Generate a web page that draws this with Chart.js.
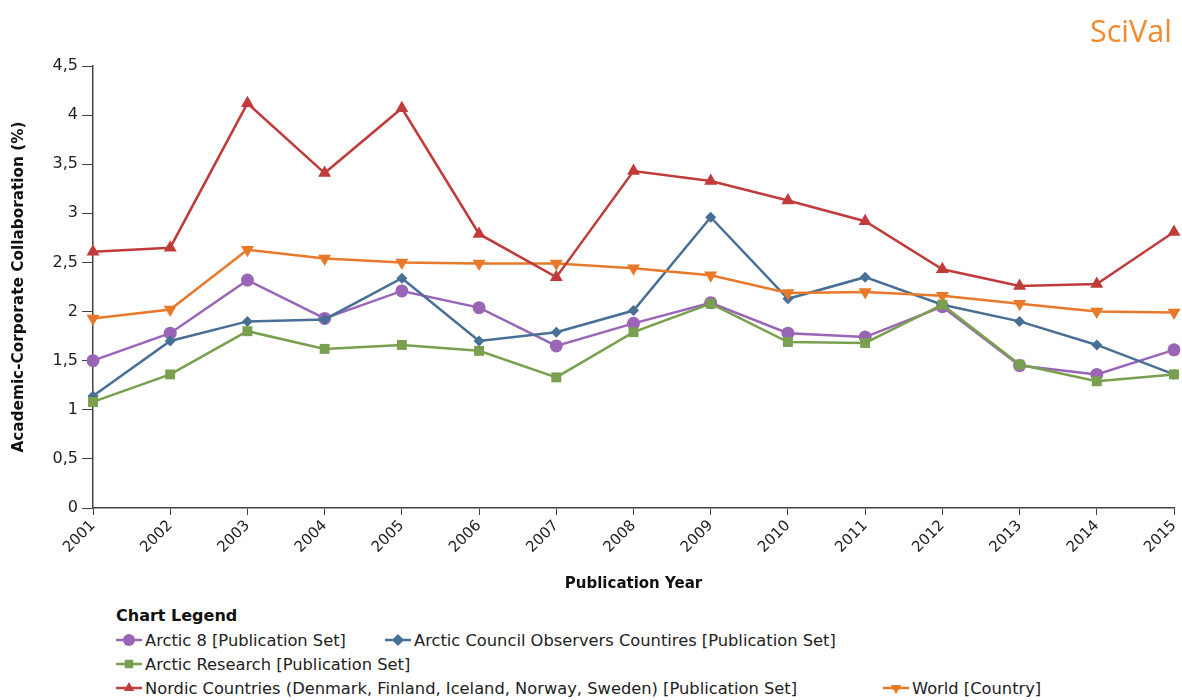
<!DOCTYPE html>
<html>
<head>
<meta charset="utf-8">
<script src="https://cdn.jsdelivr.net/npm/chart.js@4.4.1/dist/chart.umd.min.js"></script>
<style>
  body { margin: 0; background: #fff; font-family: "DejaVu Sans", sans-serif; }
  #wrap { position: relative; width: 1182px; height: 700px; overflow: hidden; }
  #chart { position: absolute; left: 0; top: 0; }
  #logo { position: absolute; left: 1090px; top: 9px; color: #f08a2c; font-size: 30.5px; font-family: "Open Sans", sans-serif; }
  #legendTitle { position: absolute; left: 116px; top: 606px; font-weight: bold; font-size: 16px; color: #111; }
  .item { position: absolute; font-size: 16.3px; color: #222; white-space: nowrap; }
  .item canvas { vertical-align: -2px; margin-right: 3px; }
</style>
</head>
<body>
<div id="wrap">
  <canvas id="chart" width="1182" height="600"></canvas>
  <div id="logo">SciVal</div>
  <div id="legendTitle">Chart Legend</div>
  <div id="legend"></div>
</div>
<script>
const years = ["2001", "2002", "2003", "2004", "2005", "2006", "2007", "2008",
  "2009", "2010", "2011", "2012", "2013", "2014", "2015"];

const arctic8 = [1.50, 1.78, 2.32, 1.93, 2.21, 2.04, 1.65, 1.88, 2.09, 1.78, 1.74, 2.05, 1.45, 1.36, 1.61];
const observers = [1.14, 1.70, 1.90, 1.92, 2.34, 1.70, 1.79, 2.01, 2.96, 2.13, 2.35, 2.07, 1.90, 1.66, 1.36];
const arcticResearch = [1.08, 1.36, 1.80, 1.62, 1.66, 1.60, 1.33, 1.79, 2.08, 1.69, 1.68, 2.07, 1.46, 1.29, 1.36];
const nordic = [2.61, 2.65, 4.12, 3.41, 4.07, 2.79, 2.35, 3.43, 3.33, 3.13, 2.92, 2.43, 2.26, 2.28, 2.81];
const world = [1.93, 2.02, 2.63, 2.54, 2.50, 2.49, 2.49, 2.44, 2.37, 2.19, 2.20, 2.16, 2.08, 2.00, 1.99];

const yTicks = [0, 0.5, 1, 1.5, 2, 2.5, 3, 3.5, 4, 4.5];

const series = [
  { label: "Arctic 8 [Publication Set]", data: arctic8, color: "#9b65b7", style: "circle", r: 6.5, rot: 0 },
  { label: "Arctic Council Observers Countires [Publication Set]", data: observers, color: "#486f96", style: "rectRot", r: 5.5, rot: 0 },
  { label: "Arctic Research [Publication Set]", data: arcticResearch, color: "#78a04f", style: "rect", r: 7, rot: 0 },
  { label: "Nordic Countries (Denmark, Finland, Iceland, Norway, Sweden) [Publication Set]", data: nordic, color: "#c23b3b", style: "triangle", r: 7.5, rot: 0 },
  { label: "World [Country]", data: world, color: "#e8792a", style: "triangle", r: 7.5, rot: 180 }
];

// order in which lines are drawn (bottom first)
const drawOrder = [4, 3, 0, 1, 2];

const legendPos = [[116, 631], [385, 631], [116, 655], [116, 679], [883, 679]];

const ctx = document.getElementById("chart").getContext("2d");

const chart = new Chart(ctx, {
  type: "line",
  data: {
    labels: years,
    datasets: series.map((s, i) => ({
      label: s.label,
      data: s.data,
      borderColor: s.color,
      backgroundColor: s.color,
      pointBackgroundColor: s.color,
      pointBorderColor: s.color,
      pointStyle: s.style,
      pointRadius: s.r,
      pointRotation: s.rot,
      pointBorderWidth: 0,
      borderWidth: 2.5,
      tension: 0,
      order: drawOrder[i],
    })),
  },
  options: {
    responsive: false,
    animation: false,
    layout: { padding: { top: 66, right: 8, left: 0, bottom: 0 } },
    plugins: {
      legend: { display: false },
      tooltip: { enabled: false },
    },
    scales: {
      x: {
        offset: false,
        grid: {
          display: true,
          drawOnChartArea: false,
          drawTicks: true,
          tickLength: 7,
          color: "#444",
        },
        border: { color: "#444", width: 1.5 },
        ticks: {
          color: "#222",
          font: { family: "DejaVu Sans", size: 15 },
          minRotation: 45,
          maxRotation: 45,
          padding: 2,
        },
        title: {
          display: true,
          text: "Publication Year",
          color: "#111",
          font: { family: "DejaVu Sans", size: 15, weight: "bold" },
          padding: { top: 12, bottom: 7 },
        },
        afterFit: (scale) => {
          scale.height = 92;
          scale.paddingLeft = 0;
          scale.paddingRight = 0;
        },
      },
      y: {
        min: 0,
        max: 4.5,
        afterBuildTicks: (scale) => { scale.ticks = yTicks.map((v) => ({ value: v })); },
        grid: {
          display: true,
          drawOnChartArea: false,
          drawTicks: true,
          tickLength: 11,
          color: "#444",
        },
        border: { color: "#444", width: 1.5 },
        ticks: {
          color: "#222",
          font: { family: "DejaVu Sans", size: 16 },
          padding: 4,
          callback: (v) => String(v).replace(".", ","),
        },
        title: {
          display: true,
          text: "Academic-Corporate Collaboration (%)",
          color: "#111",
          font: { family: "DejaVu Sans", size: 15.3, weight: "bold" },
          padding: { top: 10, bottom: 0 },
        },
        afterFit: (scale) => { scale.width = 93; },
      },
    },
  },
});

// html legend
const legend = document.getElementById("legend");
series.forEach((s, i) => {
  const div = document.createElement("div");
  div.className = "item";
  div.style.left = legendPos[i][0] + "px";
  div.style.top = legendPos[i][1] + "px";
  const ic = document.createElement("canvas");
  ic.width = 26; ic.height = 16;
  const c = ic.getContext("2d");
  c.strokeStyle = s.color; c.lineWidth = 2.5;
  c.beginPath(); c.moveTo(0, 8); c.lineTo(26, 8); c.stroke();
  c.fillStyle = s.color;
  c.strokeStyle = s.color;
  Chart.helpers.drawPoint(c, {
    pointStyle: s.style, radius: 6, rotation: s.rot, borderWidth: 0,
  }, 13, 8);
  div.appendChild(ic);
  div.appendChild(document.createTextNode(s.label));
  legend.appendChild(div);
});
</script>
</body>
</html>
